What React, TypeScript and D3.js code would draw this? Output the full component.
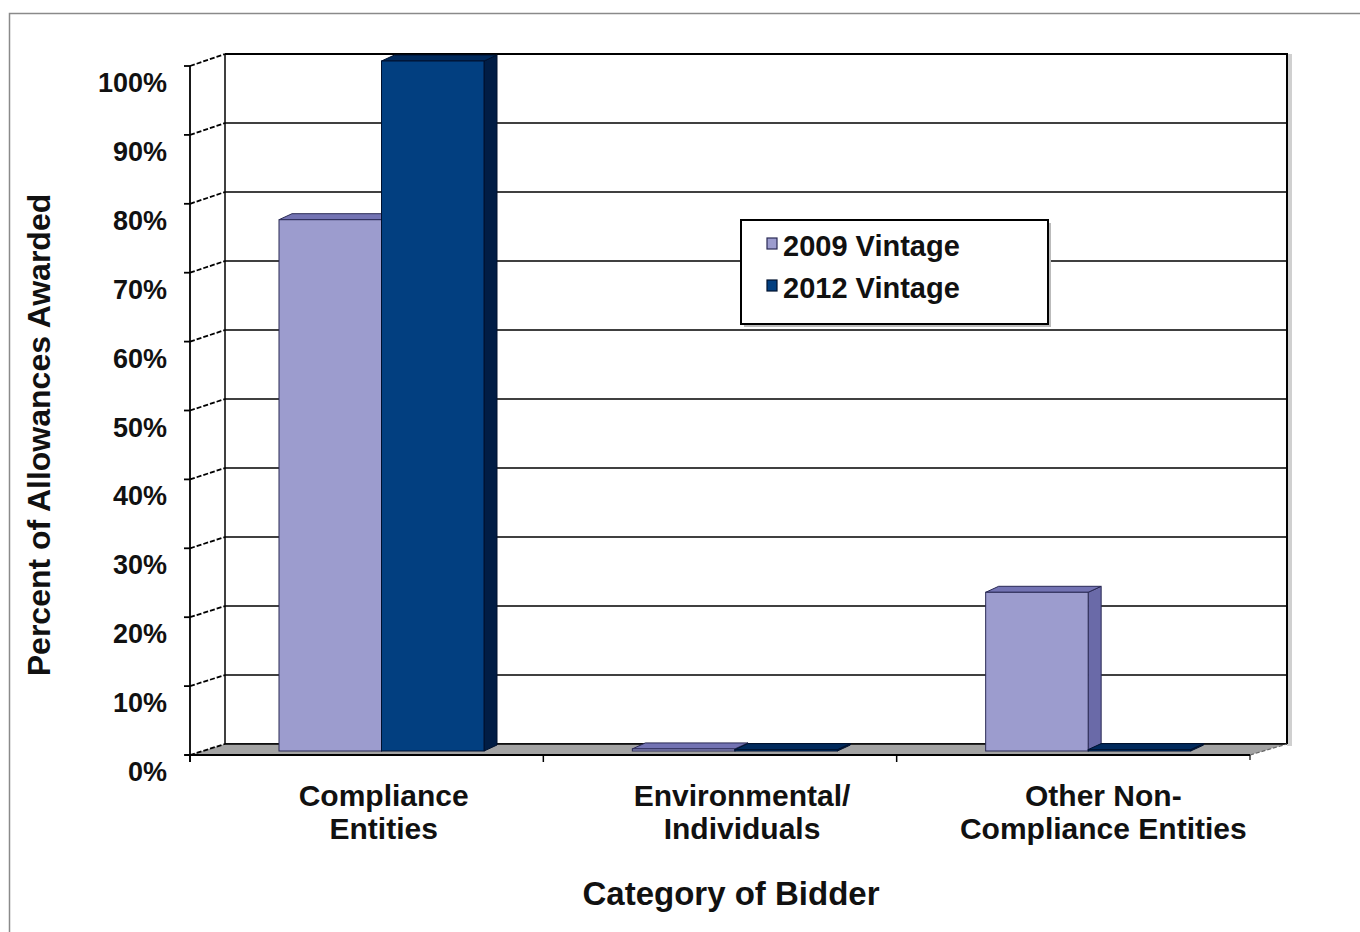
import React from "react";
import * as d3 from "d3";

const categories = ["Compliance Entities", "Environmental/ Individuals", "Other Non-Compliance Entities"];
const categoryLines = [["Compliance", "Entities"], ["Environmental/", "Individuals"], ["Other Non-", "Compliance Entities"]];
const seriesNames = ["2009 Vintage", "2012 Vintage"];
const values2009 = [77, 0.3, 23];
const values2012 = [100, 0.2, 0.2];
const yTicks = [0, 10, 20, 30, 40, 50, 60, 70, 80, 90, 100];

const W = 1360;
const H = 932;
const FONT = "'Liberation Sans', Arial, Helvetica, sans-serif";

const colors = {
  "2009 Vintage": { front: "#9c9cce", top: "#7373b3", side: "#6a6aa8", stroke: "#2a2a55" },
  "2012 Vintage": { front: "#023f80", top: "#012a5c", side: "#011d45", stroke: "#00112e" },
};

export default function App() {
  const frontLeft = 190, frontRight = 1250;
  const depthDx = 35;
  const yFront = d3.scaleLinear().domain([0, 100]).range([755, 66]);
  const yBack = d3.scaleLinear().domain([0, 100]).range([744, 54]);
  const yBar = d3.scaleLinear().domain([0, 100]).range([751, 61]);
  const backLeft = frontLeft + depthDx, backRight = 1287;

  const xCat = d3.scaleBand<string>().domain(categories).range([frontLeft, frontRight]);
  const barDx = 13, barDy = -6;
  const barOffset = 89, barGroupW = 205;

  const data = categories.map((c, i) => ({
    cat: c,
    vals: [
      { s: seriesNames[0], v: values2009[i] },
      { s: seriesNames[1], v: values2012[i] },
    ],
  }));

  const floor = [
    [frontLeft, yFront(0)],
    [backLeft, yBack(0)],
    [backRight, yBack(0)],
    [frontRight, yFront(0)],
  ];

  return (
    <svg width={W} height={H} style={{ position: "absolute", left: 0, top: 0, background: "#fff" }}>
      <rect x={0} y={0} width={W} height={H} fill="#fff" />
      <rect x={9.5} y={13.5} width={1400} height={1000} fill="none" stroke="#8a8a8a" strokeWidth={1.5} />

      {/* back wall */}
      <rect x={backRight} y={yBack(100)} width={5} height={yBack(0) - yBack(100) + 2} fill="#d0d0d0" />
      {yTicks.map((t) => (
        <line key={"g" + t} x1={backLeft} x2={backRight} y1={yBack(t)} y2={yBack(t)} stroke="#000" strokeWidth={t === 100 ? 2.2 : 1.6} />
      ))}
      <line x1={backLeft} x2={backLeft} y1={yBack(100)} y2={yBack(0)} stroke="#000" strokeWidth={1.5} />
      <line x1={backRight} x2={backRight} y1={yBack(100) - 1} y2={yBack(0)} stroke="#000" strokeWidth={2} />

      {/* floor */}
      <polygon points={floor.map((p) => p.join(",")).join(" ")} fill="#a3a3a3" stroke="none" />
      <line x1={backLeft} x2={backRight} y1={yBack(0)} y2={yBack(0)} stroke="#000" strokeWidth={1.6} />
      <line x1={frontLeft - 5} x2={frontRight} y1={yFront(0)} y2={yFront(0)} stroke="#000" strokeWidth={1.8} />
      <line x1={frontRight} x2={backRight} y1={yFront(0)} y2={yBack(0)} stroke="#666" strokeWidth={1.2} strokeDasharray="4,2" />

      {/* front axis */}
      <line x1={frontLeft} x2={frontLeft} y1={yFront(100)} y2={yFront(0) + 7} stroke="#000" strokeWidth={1.8} />
      {yTicks.map((t) => (
        <g key={"t" + t}>
          <line x1={frontLeft - 6} x2={frontLeft} y1={yFront(t)} y2={yFront(t)} stroke="#000" strokeWidth={1.8} />
          <line x1={frontLeft} x2={backLeft} y1={yFront(t)} y2={yBack(t)} stroke="#000" strokeWidth={1.8} strokeDasharray="5,2" />
          <text x={167} y={yFront(t) + 26} textAnchor="end" fontFamily={FONT} fontWeight="bold" fontSize={27} fill="#111">
            {t + "%"}
          </text>
        </g>
      ))}

      {/* x-axis ticks */}
      {categories.map((c) => (
        <line key={"xt" + c} x1={xCat(c)!} x2={xCat(c)!} y1={yFront(0)} y2={yFront(0) + 7} stroke="#000" strokeWidth={1.5} />
      ))}
      <line x1={frontRight} x2={frontRight} y1={yFront(0)} y2={yFront(0) + 5} stroke="#000" strokeWidth={1.2} />

      {/* bars */}
      {data.map((d) => {
        const start = xCat(d.cat)!;
        const xs = d3.scaleBand<string>().domain(seriesNames).range([start + barOffset, start + barOffset + barGroupW]);
        return (
          <g key={"b" + d.cat}>
            {d.vals.map((b) => {
              const x0 = xs(b.s)!;
              const x1 = x0 + xs.bandwidth();
              const yt = yBar(b.v);
              const yb = yBar(0);
              const c = colors[b.s as keyof typeof colors];
              const top = [[x0, yt], [x0 + barDx, yt + barDy], [x1 + barDx, yt + barDy], [x1, yt]];
              const side = [[x1, yt], [x1 + barDx, yt + barDy], [x1 + barDx, yb + barDy], [x1, yb]];
              return (
                <g key={b.s}>
                  <polygon points={side.map((p) => p.join(",")).join(" ")} fill={c.side} stroke={c.stroke} strokeWidth={1} />
                  <polygon points={top.map((p) => p.join(",")).join(" ")} fill={c.top} stroke={c.stroke} strokeWidth={1} />
                  <rect x={x0} y={yt} width={x1 - x0} height={Math.max(yb - yt, 1)} fill={c.front} stroke={c.stroke} strokeWidth={1} />
                </g>
              );
            })}
          </g>
        );
      })}

      {/* category labels */}
      {categories.map((c, i) => {
        const cx = xCat(c)! + xCat.bandwidth() / 2 + [17, 22, 30][i];
        return (
          <g key={"cl" + c}>
            <text x={cx} y={806} textAnchor="middle" fontFamily={FONT} fontWeight="bold" fontSize={30} fill="#111">
              {categoryLines[i][0]}
            </text>
            <text x={cx} y={839} textAnchor="middle" fontFamily={FONT} fontWeight="bold" fontSize={30} fill="#111">
              {categoryLines[i][1]}
            </text>
          </g>
        );
      })}

      {/* axis titles */}
      <text x={731} y={905} textAnchor="middle" fontFamily={FONT} fontWeight="bold" fontSize={33} fill="#111">
        Category of Bidder
      </text>
      <text transform="translate(50,435) rotate(-90)" textAnchor="middle" fontFamily={FONT} fontWeight="bold" fontSize={32} fill="#111">
        Percent of Allowances Awarded
      </text>

      {/* legend */}
      <rect x={744} y={223} width={307} height={104} fill="#bbb" />
      <rect x={741} y={220} width={307} height={104} fill="#fff" stroke="#000" strokeWidth={2} />
      {seriesNames.map((s, i) => {
        const c = colors[s as keyof typeof colors];
        const yy = 256 + i * 42;
        return (
          <g key={"lg" + s}>
            <rect x={767} y={yy - 18} width={10} height={11} fill={c.front} stroke={c.stroke} strokeWidth={1.2} />
            <text x={783} y={yy} fontFamily={FONT} fontWeight="bold" fontSize={29} fill="#111">
              {s}
            </text>
          </g>
        );
      })}
    </svg>
  );
}
